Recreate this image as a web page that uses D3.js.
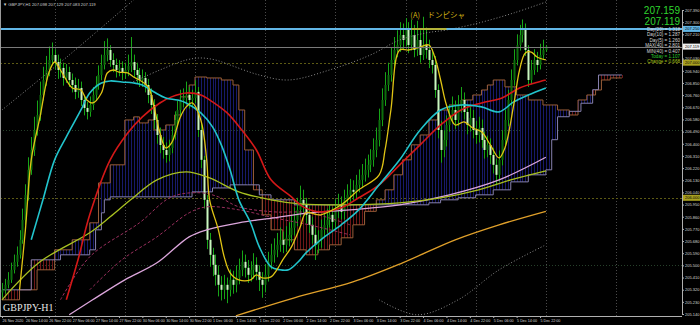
<!DOCTYPE html>
<html><head><meta charset="utf-8">
<script src="https://cdn.jsdelivr.net/npm/d3@7"></script>
<style>html,body{margin:0;padding:0;background:#000;overflow:hidden}</style>
</head><body><svg id="c" width="700" height="325"></svg>
<script>
// ---------- DATA ----------
const firstOpen = 205.300;
const closes = [
205.319,205.356,205.393,205.467,205.526,205.578,205.689,205.837,206.022,206.207,
206.354,206.502,206.613,206.761,206.872,206.946,207.020,207.057,207.005,206.946,
206.961,206.887,206.931,206.872,206.835,206.784,206.813,206.724,206.665,206.636,
206.687,206.761,206.835,206.909,206.983,207.057,207.094,207.020,206.983,206.946,
206.961,206.931,206.946,206.976,207.005,206.946,206.909,206.872,206.887,206.835,
206.761,206.687,206.576,206.465,206.391,206.354,206.317,206.369,206.465,206.576,
206.650,206.724,206.739,206.761,206.724,206.739,206.784,206.502,206.281,205.985,
205.689,205.578,205.504,205.430,205.356,205.319,205.356,205.319,205.393,205.356,
205.408,205.467,205.526,205.482,205.430,205.467,205.504,205.452,205.393,205.356,
205.430,205.526,205.578,205.615,205.652,205.689,205.652,205.704,205.726,205.778,
205.837,205.911,205.985,205.948,205.874,205.800,205.726,205.652,205.689,205.763,
205.800,205.837,205.874,205.822,205.911,205.948,205.896,205.985,206.022,206.059,
206.044,206.096,206.133,206.170,206.207,206.244,206.281,206.354,206.428,206.576,
206.724,206.835,206.909,207.020,207.094,207.131,207.205,207.168,207.242,207.131,
207.205,207.094,207.168,207.057,207.131,207.094,207.020,206.983,206.798,206.502,
206.354,206.428,206.539,206.613,206.650,206.576,206.687,206.724,206.635,206.539,
206.591,206.502,206.465,206.517,206.428,206.354,206.391,206.317,206.244,206.170,
206.281,206.428,206.576,206.724,206.872,207.020,207.131,207.205,207.242,207.094,
206.872,206.946,207.020,206.983,207.057,207.094,207.119];
const highs = [
205.37,205.40,205.45,205.52,205.58,205.64,205.76,205.92,206.10,206.30,
206.45,206.60,206.72,206.86,206.97,207.05,207.12,207.15,207.10,207.06,
207.03,207.00,206.99,206.97,206.92,206.89,206.88,206.86,206.76,206.71,
206.75,206.82,206.90,206.98,207.06,207.16,207.18,207.13,207.07,207.03,
207.02,207.01,207.00,207.06,207.19,207.06,207.00,206.96,206.95,206.93,
206.88,206.81,206.73,206.62,206.52,206.45,206.41,206.43,206.53,206.64,
206.72,206.80,206.81,206.86,206.82,206.80,206.87,206.82,206.55,206.31,
206.02,205.74,205.63,205.58,205.50,205.42,205.43,205.41,205.47,205.46,
205.50,205.55,205.61,205.58,205.54,205.53,205.59,205.56,205.50,205.45,
205.51,205.60,205.66,205.70,205.74,205.78,205.75,205.79,205.82,205.87,
205.93,206.00,206.09,206.06,206.00,205.93,205.86,205.78,205.76,205.84,
205.88,205.92,205.95,205.93,205.99,206.03,206.01,206.06,206.10,206.14,
206.13,206.17,206.21,206.25,206.29,206.32,206.36,206.44,206.52,206.66,
206.81,206.93,207.00,207.11,207.19,207.24,207.30,207.29,207.33,207.30,
207.32,207.28,207.31,207.24,207.34,207.26,207.17,207.10,207.05,206.84,
206.57,206.50,206.61,206.69,206.75,206.72,206.76,206.82,206.78,206.69,
206.67,206.65,206.57,206.60,206.58,206.49,206.46,206.44,206.37,206.29,
206.35,206.50,206.65,206.80,206.95,207.10,207.21,207.28,207.32,207.29,
207.13,207.02,207.10,207.08,207.14,207.17,207.13];
const lows = [
205.26,205.29,205.33,205.37,205.44,205.49,205.55,205.66,205.80,205.98,
206.17,206.31,206.46,206.57,206.72,206.83,206.90,206.98,206.95,206.88,
206.89,206.83,206.85,206.82,206.78,206.73,206.74,206.68,206.61,206.58,
206.60,206.65,206.72,206.80,206.87,206.95,207.01,206.97,206.93,206.89,
206.90,206.87,206.88,206.90,206.93,206.89,206.85,206.82,206.82,206.78,
206.70,206.62,206.51,206.40,206.33,206.29,206.26,206.27,206.33,206.43,
206.54,206.61,206.67,206.69,206.66,206.67,206.70,206.45,206.22,205.92,
205.62,205.49,205.42,205.35,205.27,205.24,205.25,205.22,205.27,205.29,
205.30,205.36,205.42,205.41,205.37,205.38,205.40,205.39,205.31,205.26,
205.30,205.38,205.47,205.52,205.56,205.60,205.59,205.60,205.64,205.67,
205.72,205.79,205.86,205.89,205.81,205.74,205.66,205.54,205.59,205.63,
205.71,205.74,205.78,205.76,205.77,205.85,205.84,205.84,205.93,205.97,
205.98,205.99,206.04,206.08,206.12,206.15,206.19,206.23,206.30,206.38,
206.53,206.68,206.79,206.86,206.97,207.04,207.08,207.10,207.12,207.07,
207.09,207.04,207.05,207.00,207.02,207.03,206.96,206.92,206.74,206.44,
206.26,206.30,206.38,206.49,206.55,206.51,206.53,206.63,206.58,206.47,
206.49,206.44,206.40,206.41,206.37,206.29,206.30,206.25,206.18,206.10,
206.12,206.24,206.39,206.53,206.68,206.83,206.98,207.09,207.15,207.05,
206.82,206.84,206.91,206.93,206.95,207.02,207.08];

// moving averages (bar index, price)
const yellowBars = [6,8,10,13,16,18,20,22,24,27,29,31,34,36,38,40,43,45,47,50,52,54,56,58,61,63,65,68,70,71,74,76,78,81,85,87,89,92,94,96,99,102,104,109,116,122,129,131,133,136,139,143,146,148,150,152,155,158,161,164,167,170,172,175,177,179,181,183,186];
const yellowVals = [205.319,205.763,206.281,206.599,206.924,207.005,206.946,206.872,206.813,206.798,206.724,206.702,206.776,206.924,206.946,206.931,206.924,206.894,206.872,206.821,206.673,206.480,206.369,206.406,206.599,206.673,206.702,206.576,206.281,205.985,205.763,205.563,205.445,205.393,205.393,205.430,205.408,205.415,205.467,205.541,205.637,205.785,205.889,205.874,205.948,206.059,206.170,206.354,206.650,207.094,207.094,207.116,207.131,207.042,206.872,206.687,206.539,206.562,206.517,206.488,206.392,206.295,206.369,206.687,206.946,207.072,207.079,207.042,207.020];
const cyanBars = [10,14,18,22,27,30,34,37,41,45,48,52,56,60,63,68,72,75,78,81,85,88,92,95,98,101,104,109,116,122,129,136,143,150,157,164,170,175,180,186];
const cyanVals = [205.689,205.985,206.281,206.451,206.650,206.776,206.850,206.865,206.857,206.850,206.835,206.783,206.739,206.724,206.702,206.628,206.525,206.392,206.207,205.985,205.815,205.637,205.489,205.467,205.467,205.519,205.593,205.689,205.800,205.911,206.096,206.281,206.502,206.650,206.687,206.673,206.636,206.710,206.761,206.813];
const redBars = [22,26,30,37,43,48,54,58,63,68,72,77,82,87,92,99,103,109,116,122,129,136,143,150,157,164,171,177,186];
const redVals = [205.245,205.541,205.874,206.281,206.480,206.599,206.702,206.747,206.776,206.761,206.710,206.628,206.502,206.354,206.133,206.007,205.933,205.896,205.926,206.000,206.096,206.244,206.392,206.539,206.650,206.702,206.739,206.813,206.872];
const oliveBars = [0,13,30,37,44,53,63,71,81,92,102,119,136,150,163,174,186];
const oliveVals = [205.245,205.526,205.741,205.859,205.985,206.133,206.192,206.147,206.044,205.985,205.955,205.948,205.963,206.000,206.059,206.133,206.200];
const pinkBars = [23,31,42,53,64,70,81,93,105,119,136,153,170,186];
const pinkVals = [205.134,205.245,205.393,205.519,205.711,205.763,205.815,205.852,205.889,205.911,205.948,206.022,206.133,206.300];
const orangeBars = [80,100,120,137,155,170,186];
const orangeVals = [205.127,205.260,205.378,205.519,205.689,205.800,205.900];
const dash1Bars = [20,30,47,58,68,74,81,93,105,119];
const dash1Vals = [205.245,205.563,205.815,206.007,206.037,206.007,205.933,205.896,205.889,205.800];
const dash2Bars = [30,41,53,64,70,81,93,105,119];
const dash2Vals = [205.319,205.541,205.711,205.889,205.933,205.911,205.852,205.800,205.726];
const dot1Bars = [0,23,45];
const dot1Vals = [206.650,207.057,207.464];
const dot2Bars = [44,54,63,68,73,78,88,98,112,126,136,145,152,163,175,186];
const dot2Vals = [206.850,206.946,207.020,207.035,207.020,206.983,206.909,206.872,206.946,207.057,207.168,207.220,207.242,207.294,207.368,207.449];
const dot3Bars = [129,142,156,170,186];
const dot3Vals = [205.245,205.134,205.245,205.467,205.652];

// Ichimoku spans (step values starting at bar)
const spanABars = [0,6,12,18,24,30,33,37,42,45,47,50,52,56,59,61,64,66,70,75,79,81,83,86,89,92,96,100,104,108,112,116,120,124,128,131,134,137,140,143,146,149,153,157,161,164,166,168,172,176,180,185,190,194,197,200,203,205,208,212];
const spanAVals = [205.245,205.319,205.467,205.615,205.689,205.815,206.110,206.244,206.576,206.599,206.554,206.576,206.502,206.539,206.613,206.747,206.835,206.894,206.887,206.872,206.835,206.650,206.354,206.059,205.874,205.763,205.689,205.615,205.578,205.615,205.652,205.704,205.800,205.900,205.985,206.059,206.170,206.281,206.392,206.465,206.576,206.650,206.687,206.724,206.761,206.798,206.835,206.872,206.821,206.761,206.724,206.687,206.650,206.613,206.724,206.761,206.798,206.872,206.887,206.887];
const spanBBars = [0,10,20,30,32,34,35,37,60,65,72,78,84,88,92,100,146,150,156,162,168,174,180,186,188,190,194,198,202,204,208,212];
const spanBVals = [205.319,205.541,205.578,205.615,205.763,205.889,205.985,206.007,206.007,206.044,206.073,206.096,206.096,206.022,205.985,205.948,205.963,205.985,206.000,206.022,206.059,206.118,206.170,206.207,206.430,206.600,206.640,206.700,206.800,206.909,206.909,206.909];

// horizontal levels
const blueLevel = 207.250, bidLevel = 207.119, yellowLevels = [207.000, 206.000], gridLevels = [205.500, 206.500];
const markLevel = 207.250, markBars = [140, 152];

// axes
const priceTicks = [205.140,205.230,205.320,205.410,205.500,205.590,205.680,205.770,205.860,205.950,206.040,206.130,206.220,206.310,206.400,206.490,206.580,206.670,206.760,206.850,206.940,207.030,207.120,207.210,207.300,207.390];
const timeLabels = ["26 Nov 2020","26 Nov 14:00","26 Nov 22:00","27 Nov 06:00","27 Nov 14:00","27 Nov 22:00","30 Nov 06:00","30 Nov 14:00","30 Nov 22:00","1 Dec 06:00","1 Dec 14:00","1 Dec 22:00","2 Dec 06:00","2 Dec 14:00","2 Dec 22:00","3 Dec 06:00","3 Dec 14:00","3 Dec 22:00","4 Dec 06:00","4 Dec 14:00","4 Dec 22:00","5 Dec 06:00","5 Dec 14:00","5 Dec 22:00"];
const timeTickBars = [0,8,16,24,32,40,48,56,64,72,80,88,96,104,112,120,128,136,144,152,160,168,176,184];
const dayGridBars = [18,42,66,90,114,138,162,186,210];

const infoLines = ["Day(20) = 1.318","Day(10) = 1.287","Day(5) = 1.260","MAX(40) = 2.801","MIN(40) = 0.407","Today = 1.107","Change = 0.668"];
const infoColors = ["#d8d8d8","#d8d8d8","#d8d8d8","#d8d8d8","#d8d8d8","#2ecc2e","#a8c81a"];
const bigPrices = ["207.159","207.119"];

// ---------- DRAW ----------
const W = 682, H = 316;
const svg = d3.select('#c');
svg.append('rect').attr('width',700).attr('height',325).attr('fill','#000');
svg.append('defs').append('clipPath').attr('id','clip').append('rect').attr('x',0).attr('y',0).attr('width',W).attr('height',H);
const x = d3.scaleLinear().domain([0,232]).range([2, 2+232*2.924]);
const y = d3.scaleLinear().domain([205.14,207.39]).range([314,10]);
const g = svg.append('g').attr('clip-path','url(#clip)');

// grid
g.selectAll('.vg').data(dayGridBars).join('line').attr('x1',d=>Math.round(x(d))+0.5).attr('x2',d=>Math.round(x(d))+0.5)
 .attr('y1',0).attr('y2',H).attr('stroke','#4a4a4a').attr('stroke-dasharray','1,2');
g.selectAll('.hg').data(gridLevels).join('line').attr('x1',0).attr('x2',W).attr('y1',d=>Math.round(y(d))+0.5).attr('y2',d=>Math.round(y(d))+0.5)
 .attr('stroke','#26402a').attr('stroke-dasharray','1,2');
g.selectAll('.hy').data(yellowLevels).join('line').attr('x1',0).attr('x2',W).attr('y1',d=>Math.round(y(d))+0.5).attr('y2',d=>Math.round(y(d))+0.5)
 .attr('stroke','#5c5a14').attr('stroke-dasharray','2,2');

// cloud hatch
function stepVal(bars, vals, b){ let v=null; for(let k=0;k<bars.length;k++){ if(bars[k]<=b) v=vals[k]; } return v; }
const lastCloud = 212;
const hatch = d3.range(0, lastCloud+1).map(b=>({b, a:stepVal(spanABars,spanAVals,b), s:stepVal(spanBBars,spanBVals,b)}));
g.selectAll('.hatch').data(hatch).join('line')
 .attr('x1',d=>Math.round(x(d.b))+0.5).attr('x2',d=>Math.round(x(d.b))+0.5)
 .attr('y1',d=>y(d.a)).attr('y2',d=>y(d.s))
 .attr('stroke',d=>d.a>=d.s?'#181a6a':'#6e1818').attr('stroke-width',1);
const stepLine = d3.line().x(d=>x(d[0])).y(d=>y(d[1])).curve(d3.curveStepAfter);
g.append('path').attr('d',stepLine(spanABars.map((b,i)=>[b,spanAVals[i]]))).attr('fill','none').attr('stroke','#9a5e38').attr('stroke-width',1);
g.append('path').attr('d',stepLine(spanBBars.map((b,i)=>[b,spanBVals[i]]))).attr('fill','none').attr('stroke','#8680ae').attr('stroke-width',1);

// candles
const opens = closes.map((c,i)=> i===0 ? firstOpen : closes[i-1]);
const candles = closes.map((c,i)=>({i, o:opens[i], c, h:highs[i], l:lows[i]}));
const cg = g.append('g');
cg.selectAll('.wick').data(candles).join('line')
 .attr('x1',d=>Math.round(x(d.i))+0.5).attr('x2',d=>Math.round(x(d.i))+0.5)
 .attr('y1',d=>y(Math.max(d.h,d.o,d.c))).attr('y2',d=>y(Math.min(d.l,d.o,d.c)))
 .attr('stroke','#17a517').attr('stroke-width',1);
cg.selectAll('.body').data(candles).join('rect')
 .attr('x',d=>Math.round(x(d.i))-0.5).attr('width',2)
 .attr('y',d=>y(Math.max(d.o,d.c))).attr('height',d=>Math.max(1,Math.abs(y(d.o)-y(d.c))))
 .attr('fill',d=>d.c>=d.o?'#0c6e0c':'#c9f7bf');

// lines
const lf = d3.line().x(d=>x(d[0])).y(d=>y(d[1])).curve(d3.curveCatmullRom.alpha(0.5));
function drawLine(bars, vals, color, w, dash){
  const p = g.append('path').attr('d', lf(bars.map((b,i)=>[b,vals[i]]))).attr('fill','none').attr('stroke',color).attr('stroke-width',w);
  if(dash) p.attr('stroke-dasharray',dash);
}
drawLine(dot1Bars, dot1Vals, '#8a8a8a', 1, '1,2');
drawLine(dot2Bars, dot2Vals, '#8a8a8a', 1, '1,2');
drawLine(dot3Bars, dot3Vals, '#8a8a8a', 1, '1,2');
drawLine(dash1Bars, dash1Vals, '#9a2f5e', 1, '3,2');
drawLine(dash2Bars, dash2Vals, '#9a2f5e', 1, '3,2');
drawLine(pinkBars, pinkVals, '#dca6dc', 1.3);
drawLine(orangeBars, orangeVals, '#e0a02a', 1.3);
drawLine(oliveBars, oliveVals, '#a8c020', 1.3);
drawLine(redBars, redVals, '#d41818', 1.6);
drawLine(cyanBars, cyanVals, '#22c4cc', 1.6);
drawLine(yellowBars, yellowVals, '#e0c414', 1.3);

// horizontal lines
g.append('line').attr('x1',0).attr('x2',W).attr('y1',Math.round(y(bidLevel))+0.5).attr('y2',Math.round(y(bidLevel))+0.5).attr('stroke','#7a7a7a');
g.append('line').attr('x1',0).attr('x2',W).attr('y1',y(blueLevel)).attr('y2',y(blueLevel)).attr('stroke','#62b6e6').attr('stroke-width',2);
g.append('line').attr('x1',x(markBars[0])).attr('x2',x(markBars[1])).attr('y1',y(markLevel)).attr('y2',y(markLevel)).attr('stroke','#b4b43a').attr('stroke-width',2);
svg.append('text').attr('x',x(markBars[0])-1).attr('y',18).attr('fill','#d0b014').attr('font-size',7.5).attr('font-family','"Noto Sans CJK JP", sans-serif').text('(A)　ドンピシャ');

// frame
svg.append('line').attr('x1',0.5).attr('x2',0.5).attr('y1',0).attr('y2',H).attr('stroke','#9a9a9a');

// axes
const ya = svg.append('g').attr('transform',`translate(${W},0)`)
 .call(d3.axisRight(y).tickValues(priceTicks).tickSize(2).tickFormat(d3.format('.3f')));
ya.select('.domain').attr('stroke','#b0b0b0');
ya.selectAll('line').attr('stroke','#b0b0b0');
ya.selectAll('text').attr('fill','#d8d8d8').attr('font-size',4).attr('font-family','Liberation Sans, Arial').attr('x',3);
const xa = svg.append('g').attr('transform',`translate(0,${H})`)
 .call(d3.axisBottom(x).tickValues(timeTickBars).tickSize(2).tickFormat((d,i)=>timeLabels[i]));
xa.select('.domain').attr('stroke','#b0b0b0').attr('d',`M0,0.5H${W}`);
xa.selectAll('line').attr('stroke','#b0b0b0');
xa.selectAll('text').attr('fill','#d8d8d8').attr('font-size',3.7).attr('font-family','Liberation Sans, Arial').attr('text-anchor','start').attr('y',3.5).attr('dy','0.71em');

// price axis markers
function marker(v, bg, fg, txt){
  svg.append('rect').attr('x',W+1).attr('y',y(v)-3).attr('width',17).attr('height',6).attr('fill',bg);
  svg.append('text').attr('x',W+3).attr('y',y(v)+1.5).attr('fill',fg).attr('font-size',4).attr('font-family','Liberation Sans, Arial').text(txt);
}
marker(blueLevel,'#62b6e6','#000','207.250');
marker(bidLevel,'#f0f0f0','#000','207.119');
yellowLevels.forEach(v=>marker(v,'#a8a020','#000',d3.format('.3f')(v)));

// texts
svg.append('text').attr('x',3).attr('y',6).attr('fill','#d0d0d0').attr('font-size',4.2).attr('font-family','Liberation Sans, Arial')
 .text('▼ GBPJPY,H1  207.098 207.129 207.083 207.119');
svg.append('text').attr('x',3).attr('y',311).attr('fill','#e6e6e6').attr('font-size',10).attr('font-family','Liberation Serif, serif').text('GBPJPY-H1');
bigPrices.forEach((t,i)=>svg.append('text').attr('x',680).attr('y',14+i*10.5).attr('text-anchor','end')
 .attr('fill','#2fd62f').attr('font-size',10).attr('font-family','Liberation Sans, Arial').text(t));
infoLines.forEach((t,i)=>svg.append('text').attr('x',680).attr('y',31+i*5.4).attr('text-anchor','end')
 .attr('fill',infoColors[i]).attr('font-size',4.6).attr('font-family','Liberation Sans, Arial').text(t));
</script></body></html>
